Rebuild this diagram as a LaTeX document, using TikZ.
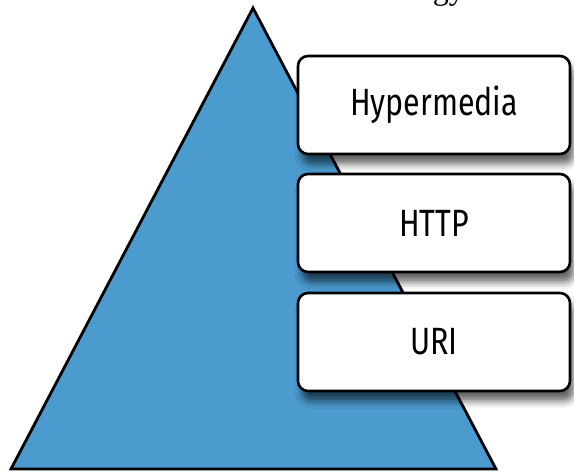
\documentclass[tikz,border=0pt]{standalone}
\usepackage{fontspec}
\setmainfont{Liberation Serif}
\newfontfamily\layerfont[FakeStretch=0.8]{Fira Sans}
\usetikzlibrary{shadows.blur}
\definecolor{pyramidblue}{RGB}{75,155,207}
\begin{document}
\begin{tikzpicture}[x=1pt,y=-1pt,
  layerbox/.style={draw=black, line width=2.6pt, rounded corners=10pt, fill=white,
    minimum width=272pt, minimum height=98pt, inner sep=0pt,
    font=\layerfont\fontsize{38}{40}\selectfont,
    blur shadow={shadow xshift=4pt, shadow yshift=-10pt, shadow blur radius=7pt, shadow opacity=60}}]
\useasboundingbox (0,0) rectangle (574,472);
% heading above the picture (mostly off the page)
\node[anchor=base east, inner sep=0pt, font=\fontsize{32}{36}\selectfont] (title) at (465,-1) {Technology};
% the pyramid
\coordinate (apex) at (253,8);
\coordinate (baseR) at (496,469);
\coordinate (baseL) at (11,469);
\draw[fill=pyramidblue, line width=2.8pt, line join=miter] (apex) -- (baseR) -- (baseL) -- cycle;
% the three layers
\node[layerbox] (hyper) at (434,105) {Hypermedia};
\node[layerbox] (http) at (434,223) {HTTP};
\node[layerbox] (uri) at (434,342) {URI};
\end{tikzpicture}
\end{document}
